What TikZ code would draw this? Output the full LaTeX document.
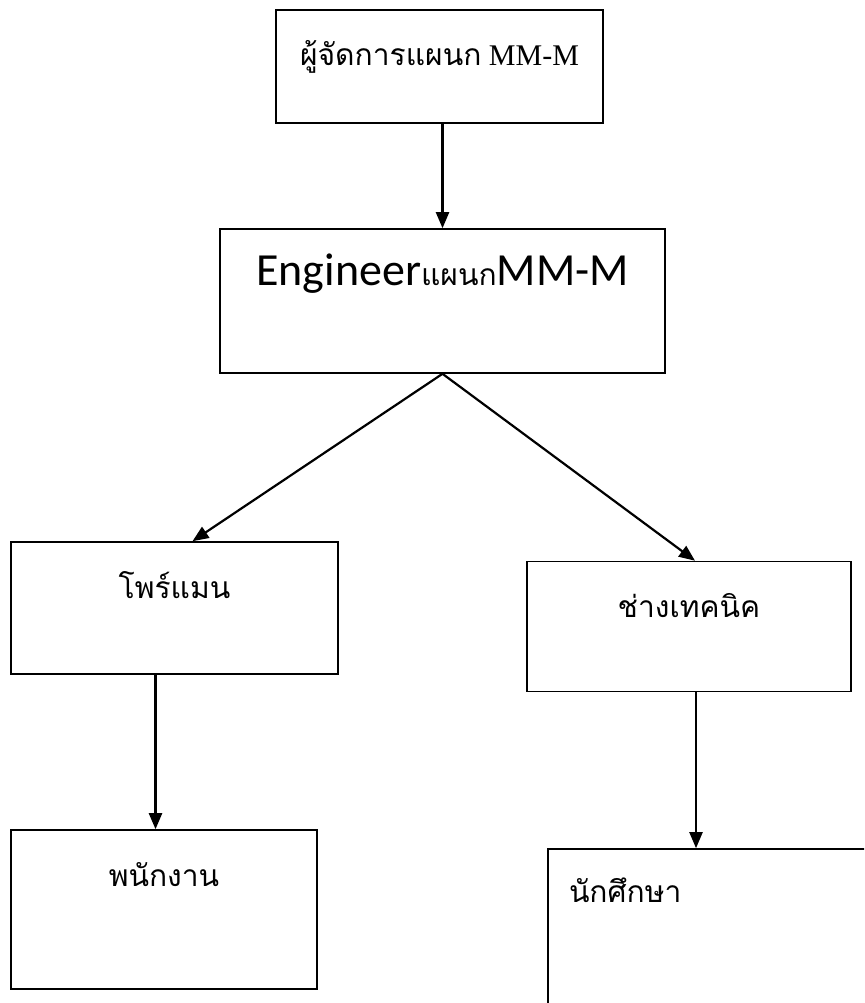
\documentclass[tikz,border=0pt]{standalone}
\usepackage{fontspec}
\setmainfont{Liberation Serif}
\newfontfamily\thaifont[Script=Thai]{Loma}
\newfontfamily\engfont{Carlito}
\usetikzlibrary{arrows.meta}

\tikzset{
  orgbox/.style={draw, line width=1.6pt, inner sep=0pt, text height=56pt},
  link/.style={line width=2.2pt, -{Triangle[length=16pt,width=13pt]}},
  thlabel/.style={font=\thaifont\fontsize{30}{35}\selectfont}
}

\begin{document}
\begin{tikzpicture}[x=1pt, y=-1pt]
    \useasboundingbox (0,0) rectangle (864,1003);
    \clip (0,0) rectangle (864,1003);

    % Kaestchen
    \node[orgbox, minimum width=327pt, text depth=57pt, font=\fontsize{30}{36}\selectfont]
        (mgr) at (439.5,66.5) {{\thaifont ผู้จัดการแผนก} MM-M};
    \node[orgbox, minimum width=445pt, text depth=88pt, font=\engfont\fontsize{46}{54}\selectfont]
        (eng) at (442.5,301) {Engineer{\thaifont\fontsize{30}{36}\selectfont แผนก}MM-M};
    \node[orgbox, thlabel, minimum width=327pt, text depth=76pt] (fore) at (174.5,608) {โพร์แมน};
    \node[orgbox, thlabel, minimum width=324pt, text depth=74pt] (tech) at (689,626.5) {ช่างเทคนิค};
    \node[orgbox, thlabel, minimum width=306pt, text depth=103pt] (staff) at (164,909.5) {พนักงาน};
    \node[orgbox, thlabel, text width=290pt, align=left, inner xsep=21pt, text height=53pt, text depth=118pt]
        (stud) at (714,934.5) {นักศึกษา};

    % Verbindungen
    \draw[link] (eng.north |- mgr.south) -- (eng.north);
    \draw[link] (eng.south) -- ([xshift=18pt]fore.north);
    \draw[link] (eng.south) -- ([xshift=6pt]tech.north);
    \draw[link] ([xshift=-19pt]fore.south) -- ([xshift=-19pt]fore.south |- staff.north);
    \draw[link] ([xshift=7pt]tech.south) -- ([xshift=7pt]tech.south |- stud.north);
\end{tikzpicture}
\end{document}
